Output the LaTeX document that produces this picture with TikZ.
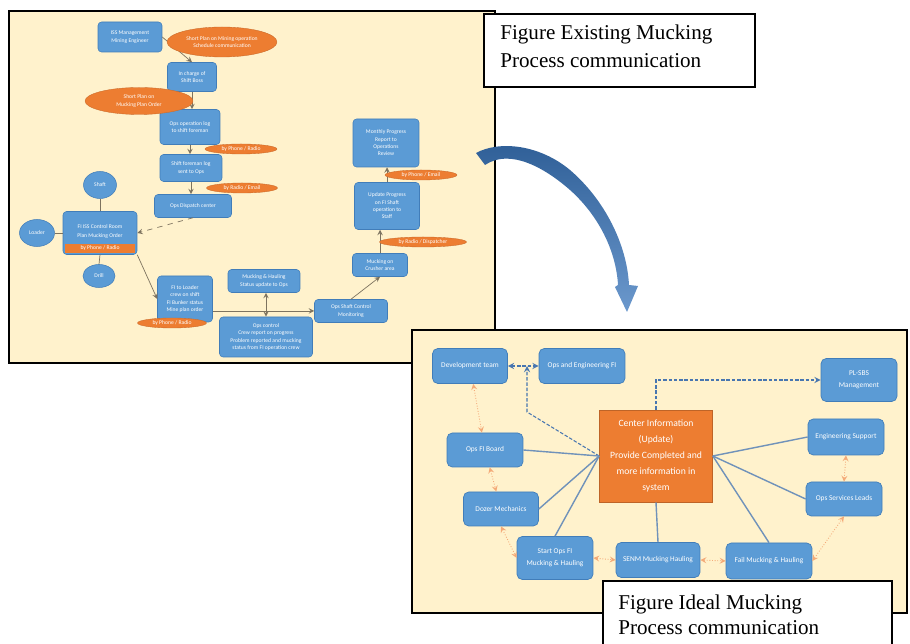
\documentclass[tikz,border=0pt]{standalone}
\usepackage{fontspec}
\setmainfont{Liberation Serif}
\newfontfamily\boxfont{Carlito}
\usetikzlibrary{shapes.geometric}

\definecolor{panelfill}{RGB}{255,242,204}
\definecolor{boxblue}{RGB}{91,155,213}
\definecolor{boxedge}{RGB}{65,125,185}
\definecolor{ovalorange}{RGB}{237,125,49}
\definecolor{linkblue}{RGB}{112,146,186}
\definecolor{dashblue}{RGB}{72,118,176}
\definecolor{dotorange}{RGB}{244,170,120}
\definecolor{arrowblue}{RGB}{58,118,188}
\definecolor{linkgray}{RGB}{125,115,95}

\begin{document}
\begin{tikzpicture}[x=0.02cm,y=-0.02cm,>=stealth]
        \tikzstyle{panel}=[draw=black, line width=0.85pt, fill=panelfill]
        \tikzstyle{caption}=[draw=black, line width=0.6pt, fill=white]
        \tikzstyle{lbox}=[rectangle, rounded corners=2pt, fill=boxblue, draw=boxedge, line width=0.3pt, text=white, align=center, inner sep=1pt, font=\boxfont\fontsize{3.2}{4.2}\selectfont]
        \tikzstyle{loval}=[ellipse, fill=ovalorange, draw=ovalorange!85!black, line width=0.2pt, text=white, align=center, inner sep=0pt, font=\boxfont\fontsize{3.2}{4.2}\selectfont]
        \tikzstyle{lcirc}=[ellipse, fill=boxblue, draw=boxedge, line width=0.3pt, text=white, inner sep=0pt, font=\boxfont\fontsize{3.2}{4.2}\selectfont]
        \tikzstyle{lconn}=[draw=linkgray, line width=0.4pt]
        \tikzstyle{rbox}=[rectangle, rounded corners=3pt, fill=boxblue, draw=boxedge, line width=0.4pt, text=white, align=center, inner sep=1pt, font=\boxfont\fontsize{4.2}{7}\selectfont]
        \tikzstyle{hub}=[rectangle, fill=ovalorange, draw=ovalorange!80!black, line width=0.4pt, text=white, align=center, font=\boxfont\fontsize{5.5}{9}\selectfont]
        \tikzstyle{rconn}=[draw=linkblue, line width=0.8pt]
        \tikzstyle{dashconn}=[draw=dashblue, line width=0.6pt, dash pattern=on 2pt off 1pt]
        \tikzstyle{dotconn}=[draw=dotorange, line width=0.5pt, densely dotted, <->]

        \useasboundingbox (0,0) rectangle (910,644);

        % existing process
        \draw[panel] (9,11) rectangle (495,363);

        \node[lbox, minimum width=1.28cm, minimum height=0.6cm] (issmgmt) at (130,37) {ISS Management \\ Mining Engineer};
        \node[lbox, minimum width=0.98cm, minimum height=0.58cm] (shiftboss) at (192,77) {In charge of \\ Shift Boss};
        \node[lbox, minimum width=1.2cm, minimum height=0.7cm] (oplog) at (190,127) {Ops operation log \\ to shift foreman};
        \node[lbox, minimum width=1.24cm, minimum height=0.54cm] (foreman) at (191,168) {Shift foreman log \\ sent to Ops};
        \node[lbox, minimum width=1.54cm, minimum height=0.46cm] (dispatch) at (193,206) {Ops Dispatch center};
        \node[lbox, minimum width=1.48cm, minimum height=0.86cm] (ctrlroom) at (100,233) {\raisebox{2.6pt}{\shortstack{FI ISS Control Room \\ Plan Mucking Order}}};
        \node[lcirc, minimum width=0.66cm, minimum height=0.54cm] (shaft) at (100,185) {Shaft};
        \node[lcirc, minimum width=0.7cm, minimum height=0.54cm] (loader) at (37,233) {Loader};
        \node[lcirc, minimum width=0.64cm, minimum height=0.46cm] (drill) at (99,276) {Drill};
        \node[lbox, minimum width=1.1cm, minimum height=0.92cm] (crew) at (185,299) {FI to Loader \\ crew on shift \\ FI Bunker status \\ Mine plan order};
        \node[lbox, minimum width=1.44cm, minimum height=0.46cm] (status) at (264,281) {Mucking \& Hauling \\ Status update to Ops};
        \node[lbox, minimum width=1.86cm, minimum height=0.8cm] (feedback) at (266,337) {Ops control \\ Crew report on progress \\ Problem reported and mucking \\ status from FI operation crew};
        \node[lbox, minimum width=1.46cm, minimum height=0.46cm] (monitor) at (351,311) {Ops Shaft Control \\ Monitoring};
        \node[lbox, minimum width=1.1cm, minimum height=0.46cm] (crusher) at (380,265) {Mucking on \\ Crusher area};
        \node[lbox, minimum width=1.3cm, minimum height=0.94cm] (progress) at (387,206) {Update Progress \\ on FI Shaft \\ operation to \\ Staff};
        \node[lbox, minimum width=1.32cm, minimum height=0.96cm] (report) at (386,143) {Monthly Progress \\ Report to \\ Operations \\ Review};

        \draw[lconn,->] (issmgmt.east) -- (shiftboss.north);
        \draw[lconn,->] (shiftboss.south) -- (shiftboss.south |- oplog.north);
        \draw[lconn,->] (oplog.south) -- (oplog.south |- foreman.north);
        \draw[lconn,->] (foreman.south) -- (foreman.south |- dispatch.north);
        \draw[lconn,->,dashed] (dispatch.south) -- (ctrlroom.east);
        \draw[lconn] (ctrlroom.north) -- (shaft.south);
        \draw[lconn] (ctrlroom.west) -- (loader.east);
        \draw[lconn] (ctrlroom.south) -- (drill.north);
        \draw[lconn,->] (ctrlroom.south east) -- (crew.west);
        \draw[lconn,->] (crew.east |- monitor.west) -- (monitor.west);
        \draw[lconn,<->] (feedback.north) -- (feedback.north |- status.south);
        \draw[lconn,->] (monitor.north) -- (crusher.south);
        \draw[lconn,->] (crusher.north) -- (crusher.north |- progress.south);
        \draw[lconn,->] (progress.north) -- (progress.north |- report.south);

        \node[loval, minimum width=2.2cm, minimum height=0.6cm] (plancomm) at (222,42) {Short Plan on Mining operation \\ Schedule communication};
        \node[loval, minimum width=2.16cm, minimum height=0.54cm] (planorder) at (139,101) {Short Plan on \\ Mucking Plan Order};
        \node[loval, minimum width=1.44cm, minimum height=0.2cm] (byphone) at (241,149) {by Phone / Radio};
        \node[loval, minimum width=1.42cm, minimum height=0.2cm] (byradio) at (242,188) {by Radio / Email};
        \node[fill=ovalorange, minimum width=1.4cm, minimum height=0.18cm, inner sep=0pt, text=white, font=\boxfont\fontsize{3.2}{4.2}\selectfont] (ctrlband) at (100,248.5) {by Phone / Radio};
        \node[loval, minimum width=1.38cm, minimum height=0.2cm] (bycrew) at (172,323) {by Phone / Radio};
        \node[loval, minimum width=1.74cm, minimum height=0.2cm] (bydispatch) at (423,242) {by Radio / Dispatcher};
        \node[loval, minimum width=1.44cm, minimum height=0.2cm] (byemail) at (421,175) {by Phone / Email};

        \draw[caption] (484,14) rectangle (755,87);
        \node[anchor=north west, align=left, inner sep=0pt, font=\fontsize{12}{15.8}\selectfont] (existcap) at (500,25) {Figure Existing Mucking\\Process communication};

        % turning arrow
        \shade[top color=arrowblue!80!black, bottom color=arrowblue!75!white] (476,153) .. controls (500,140) and (540,145) .. (570,170) .. controls (605,200) and (627,245) .. (629,285) -- (638,286) -- (627,312) -- (615,287) -- (618,285) .. controls (616,250) and (598,215) .. (570,190) .. controls (545,168) and (510,148) .. (485,165) -- cycle;

        % ideal process
        \draw[panel] (412,330) rectangle (907,613);

        \node[hub, minimum width=2.26cm, minimum height=1.84cm] (hub) at (656,456) {Center Information \\ (Update) \\ Provide Completed and \\ more information in \\ system};
        \node[rbox, minimum width=1.5cm, minimum height=0.7cm] (dev) at (470,366) {Development team};
        \node[rbox, minimum width=1.72cm, minimum height=0.7cm] (opseng) at (582,366) {Ops and Engineering FI};
        \node[rbox, minimum width=1.52cm, minimum height=0.68cm] (board) at (485,450) {Ops FI Board};
        \node[rbox, minimum width=1.5cm, minimum height=0.68cm] (mech) at (501,509) {Dozer Mechanics};
        \node[rbox, minimum width=1.52cm, minimum height=0.86cm] (start) at (555,558) {Start Ops FI \\ Mucking \& Hauling};
        \node[rbox, minimum width=1.68cm, minimum height=0.7cm] (senm) at (658,560) {SENM Mucking Hauling};
        \node[rbox, minimum width=1.72cm, minimum height=0.72cm] (fail) at (769,561) {Fail Mucking \& Hauling};
        \node[rbox, minimum width=1.52cm, minimum height=0.68cm] (svc) at (844,499) {Ops Services Leads};
        \node[rbox, minimum width=1.52cm, minimum height=0.72cm] (eng) at (846,437) {Engineering Support};
        \node[rbox, minimum width=1.52cm, minimum height=0.86cm] (mgmt) at (859,380) {PL-SBS \\ Management};

        \coordinate (bend) at (527,412);
        \draw[dashconn,<->] (dev.east) -- (opseng.west);
        \draw[dashconn,->] (hub.west) -- (bend) -- (bend |- dev.east);
        \draw[dashconn,->] (hub.north) -- (hub.north |- mgmt.west) -- (mgmt.west);

        \draw[rconn] (hub.west) -- (board.east);
        \draw[rconn] (hub.west) -- (mech.east);
        \draw[rconn] (hub.west) -- (start.north);
        \draw[rconn] (hub.south) -- (senm.north);
        \draw[rconn] (hub.east) -- (fail.north);
        \draw[rconn] (hub.east) -- (svc.west);
        \draw[rconn] (hub.east) -- (eng.west);

        \draw[dotconn] (dev) -- (board);
        \draw[dotconn] (board) -- (mech);
        \draw[dotconn] (mech.south) -- (start.west);
        \draw[dotconn] (start.east) -- (senm.west);
        \draw[dotconn] (senm.east) -- (fail.west);
        \draw[dotconn] (fail.east) -- (svc.south);
        \draw[dotconn] (eng.south) -- (svc.north);

        \draw[caption] (603,650) -- (603,581) -- (892,581) -- (892,650);
        \node[anchor=north west, align=left, inner sep=0pt, font=\fontsize{12}{14}\selectfont] (idealcap) at (618,595) {Figure Ideal Mucking\\Process communication};
    \end{tikzpicture}
\end{document}
